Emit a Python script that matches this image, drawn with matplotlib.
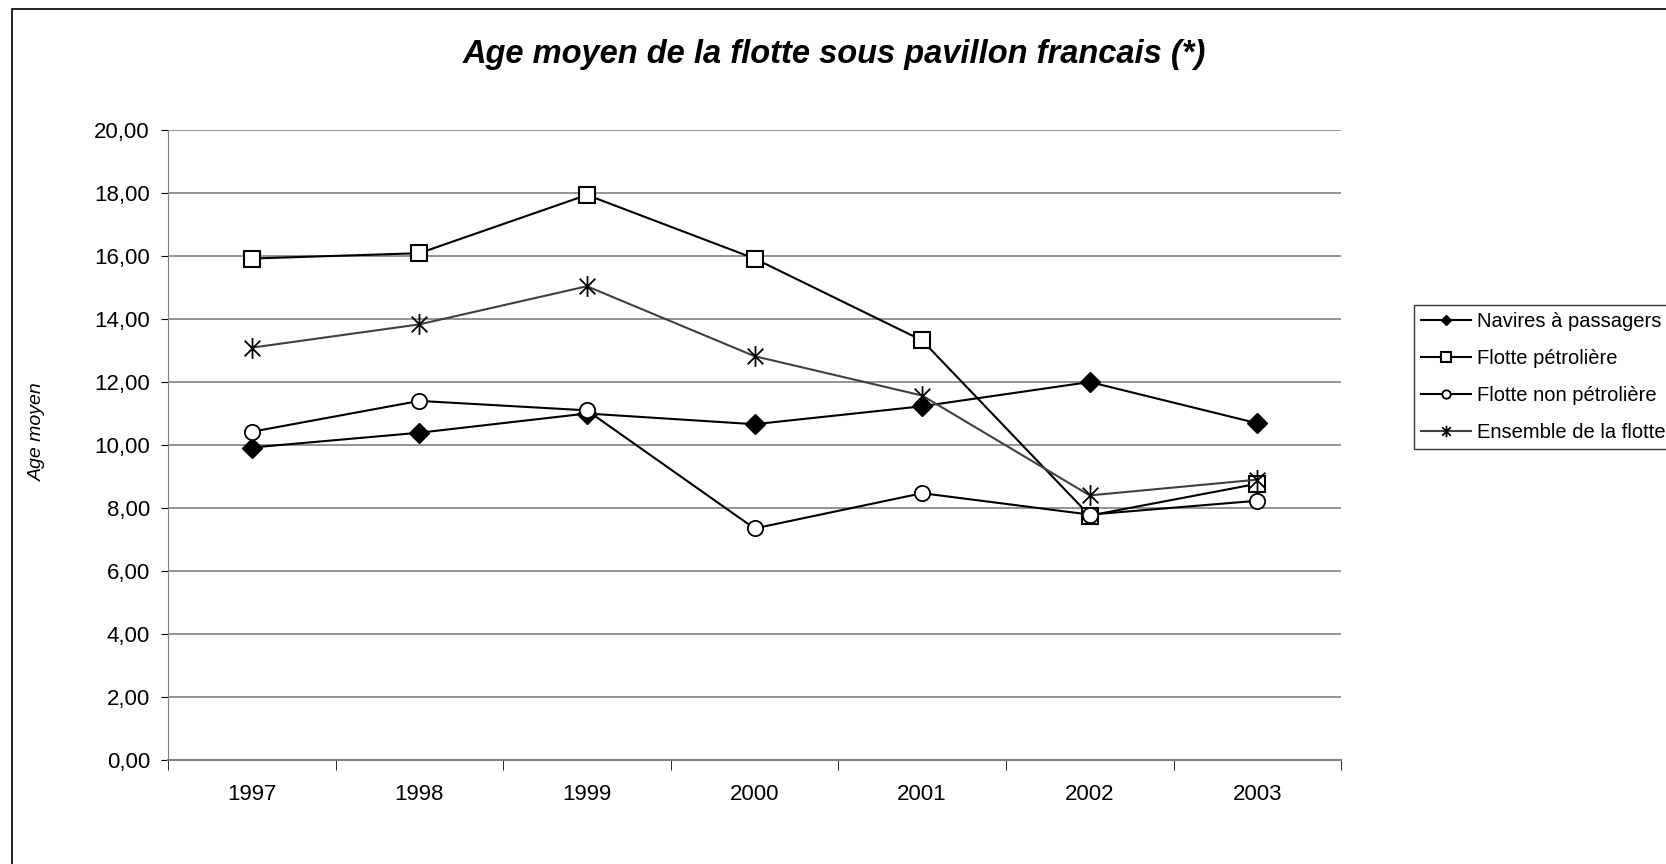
import numpy as np
import matplotlib
matplotlib.use("Agg")
import matplotlib.pyplot as plt
from matplotlib.path import Path
from matplotlib.patches import Rectangle

plt.rcParams['font.family'] = ['Liberation Sans', 'DejaVu Sans']

years = ['1997', '1998', '1999', '2000', '2001', '2002', '2003']
passagers = [9.92, 10.39, 11.00, 10.66, 11.23, 12.00, 10.69]
petroliere = [15.92, 16.09, 17.94, 15.92, 13.32, 7.76, 8.77]
non_petroliere = [10.42, 11.40, 11.10, 7.35, 8.47, 7.79, 8.23]
ensemble = [13.09, 13.83, 15.04, 12.82, 11.57, 8.40, 8.90]
labels = ['Navires à passagers', 'Flotte pétrolière', 'Flotte non pétrolière', 'Ensemble de la flotte']

# excel style asterisk: vertical bar + X
star = Path([(0, -1), (0, 1), (-0.75, -0.75), (0.75, 0.75), (-0.75, 0.75), (0.75, -0.75)],
            [Path.MOVETO, Path.LINETO, Path.MOVETO, Path.LINETO, Path.MOVETO, Path.LINETO])

fig = plt.figure(figsize=(16.66, 8.64), dpi=100)
ax = fig.add_axes([0.1008, 0.1204, 0.7042, 0.7291])

x = np.arange(len(years))
ax.plot(x, passagers, color='black', lw=1.5, marker='D', ms=10, mfc='black', mec='black', label=labels[0], zorder=4)
ax.plot(x, petroliere, color='black', lw=1.5, marker='s', ms=12, mfc='white', mec='black', mew=1.5, label=labels[1], zorder=4)
ax.plot(x, non_petroliere, color='black', lw=1.5, marker='o', ms=11, mfc='white', mec='black', mew=1.3, label=labels[2], zorder=4)
ax.plot(x, ensemble, color='#404040', lw=1.5, marker=star, ms=15, mfc='none', mec='black', mew=1.3, label=labels[3], zorder=4)

ax.set_xlim(-0.5, 6.5)
ax.set_ylim(0, 20)
ax.set_yticks(np.arange(0, 21, 2))
ax.set_yticklabels([f"{v:.2f}".replace('.', ',') for v in np.arange(0, 21, 2)])
ax.set_xticks(x)
ax.set_xticklabels(years)
ax.set_xticks(np.arange(-0.5, 7, 1), minor=True)
ax.tick_params(axis='x', which='major', length=0, pad=17, labelsize=16)
ax.tick_params(axis='x', which='minor', length=7, direction='out', color='black')
ax.tick_params(axis='y', length=5, direction='out', labelsize=16, pad=8, color='black')
ax.yaxis.grid(True, color='#808080', lw=1.2)
ax.set_axisbelow(True)
for s in ['top', 'right']:
    ax.spines[s].set_visible(False)
ax.spines['left'].set_color('#808080')
ax.spines['bottom'].set_color('#808080')
ax.spines['bottom'].set_linewidth(1.5)

fig.text(37 / 1666, 0.5, 'Age moyen', rotation=90, ha='center', va='center', fontsize=14, style='italic')
fig.text(0.501, 0.937, 'Age moyen de la flotte sous pavillon francais (*)', ha='center', va='center',
         fontsize=23.5, fontweight='bold', style='italic')

leg = fig.legend(loc='upper left', bbox_to_anchor=(1414 / 1666, 1 - 305 / 864), fontsize=14.5,
                 frameon=True, fancybox=False, edgecolor='black', handlelength=2.5, handletextpad=0.3,
                 borderpad=0.35, borderaxespad=0, labelspacing=0.9, markerscale=0.55)
leg.get_frame().set_linewidth(1.0)

fig.patches.append(Rectangle((12 / 1666, -0.1), 2, 1.1 - 9 / 864, transform=fig.transFigure,
                             fill=False, ec='black', lw=1.2))

fig.savefig('out.png', dpi=100)
